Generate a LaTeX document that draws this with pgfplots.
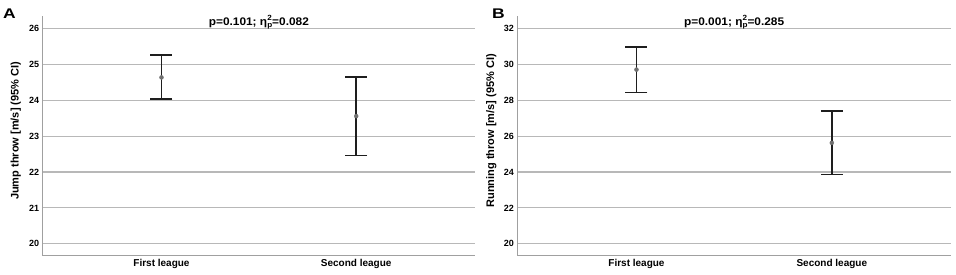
\documentclass[border=0pt]{standalone}
\usepackage{fontspec}
\setmainfont{Liberation Sans}
\usepackage{pgfplots}
\pgfplotsset{compat=1.18}
\definecolor{gridgray}{HTML}{B8B8B8}
\definecolor{axgray}{HTML}{A0A0A0}
\definecolor{dotgray}{HTML}{707070}
\definecolor{barblack}{HTML}{1E1E1E}
\pgfplotsset{
  ciaxis/.style={
    scale only axis, height=240pt,
    axis x line*=bottom, axis y line*=left,
    axis line style={axgray, line width=1.1pt},
    ymajorgrids, major grid style={gridgray, line width=1.2pt},
    major tick length=0pt,
    xmin=-0.61, xmax=1.61, xtick={0,1},
    xticklabels={First league, Second league},
    tick label style={font=\bfseries\fontsize{9}{10}\selectfont},
    xticklabel style={font=\bfseries\fontsize{10}{12}\selectfont},
    /pgf/number format/assume math mode=true,
    ylabel style={font=\bfseries\fontsize{11}{12}\selectfont, anchor=center},
    clip=false,
  },
  ci/.style={only marks, mark=*, mark size=2pt,
    mark options={fill=dotgray, draw=dotgray},
    error bars/.cd, y dir=both, y explicit,
    error mark=|,
    error bar style={barblack, line width=1.6pt},
    error mark options={barblack, line width=1.6pt, mark size=11pt}}
}
\newcommand{\etap}{\makebox[0pt][l]{\raisebox{0.8ex}{\fontsize{7.5}{8}\selectfont 2}}\raisebox{-0.4ex}{\fontsize{7.5}{8}\selectfont p}}
\begin{document}
\begin{tikzpicture}
\useasboundingbox (0pt,0pt) rectangle (956pt,274pt);
\node[anchor=base west, inner sep=0pt, font=\bfseries\fontsize{14}{15}\selectfont] at (3pt,255.7pt) {\scalebox{1.25}[1]{A}};
\node[anchor=base west, inner sep=0pt, font=\bfseries\fontsize{14}{15}\selectfont] at (492pt,255.7pt) {\scalebox{1.25}[1]{B}};
\begin{axis}[ciaxis, at={(42.7pt,18.3pt)}, anchor=south west, width=432.3pt,
  ymin=19.665, ymax=26.363, ytick={20,21,22,23,24,25,26},
  ylabel={Jump throw [m/s] (95\% CI)},
  ylabel style={at={(axis description cs:-0.0625,0.52)}}]
\addplot+[ci] coordinates {
  (0,24.64) += (0,0.62) -= (0,0.61)
  (1,23.56) += (0,1.09) -= (0,1.10)
};
\node[anchor=base, yshift=-9.8pt, inner sep=0pt, font=\bfseries\fontsize{11}{12}\selectfont] at (rel axis cs:0.5,1) {\scalebox{1.08}[1]{p=0.101; η\etap=0.082}};
\end{axis}
\begin{axis}[ciaxis, at={(517.3pt,18.3pt)}, anchor=south west, width=433.7pt,
  ymin=19.33, ymax=32.73, ytick={20,22,24,26,28,30,32},
  ylabel={Running throw [m/s] (95\% CI)},
  ylabel style={at={(axis description cs:-0.06,0.52)}}]
\addplot+[ci] coordinates {
  (0,29.72) += (0,1.26) -= (0,1.27)
  (1,25.63) += (0,1.78) -= (0,1.76)
};
\node[anchor=base, yshift=-9.8pt, inner sep=0pt, font=\bfseries\fontsize{11}{12}\selectfont] at (rel axis cs:0.5,1) {\scalebox{1.08}[1]{p=0.001; η\etap=0.285}};
\end{axis}
\end{tikzpicture}
\end{document}
